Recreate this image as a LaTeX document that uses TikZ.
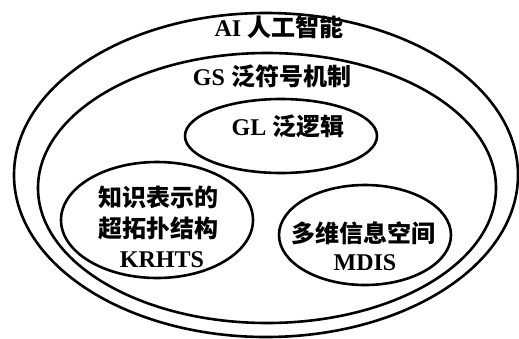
\documentclass[tikz,border=0pt]{standalone}
\usepackage{fontspec}
\setmainfont{Liberation Serif}
\newfontfamily\cjk{Noto Sans CJK SC}
\usetikzlibrary{shapes.geometric}
\begin{document}
\begin{tikzpicture}[x=1pt,y=-1pt,
  ring/.style={draw,line width=2.6pt,ellipse,inner sep=0pt},
  lbl/.style={font=\fontsize{24}{26}\selectfont\bfseries,inner sep=0pt,anchor=center}]
\useasboundingbox (0,0) rectangle (519,338);
\fill[white] (0,0) rectangle (519,338);
\node[ring,minimum width=504pt,minimum height=324pt] (ai) at (266,175) {};
\node[ring,minimum width=458pt,minimum height=270pt] (gs) at (267,188) {};
\node[ring,minimum width=192pt,minimum height=74pt] (gl) at (281,136) {};
\node[ring,minimum width=192pt,minimum height=116pt] (kr) at (157,220) {};
\node[ring,minimum width=172pt,minimum height=100pt] (md) at (365,235) {};
\node[lbl] (tai) at (279,27) {AI {\cjk 人工智能}};
\node[lbl] (tgs) at (272,76) {GS {\cjk 泛符号机制}};
\node[lbl] (tgl) at (288,126) {GL {\cjk 泛逻辑}};
\node[lbl] (tkr1) at (158,197) {\cjk 知识表示的};
\node[lbl] (tkr2) at (158,228) {\cjk 超拓扑结构};
\node[lbl] (tkr3) at (162,260) {KRHTS};
\node[lbl] (tmd1) at (363,233) {\cjk 多维信息空间};
\node[lbl] (tmd2) at (365,263) {MDIS};
\end{tikzpicture}
\end{document}
